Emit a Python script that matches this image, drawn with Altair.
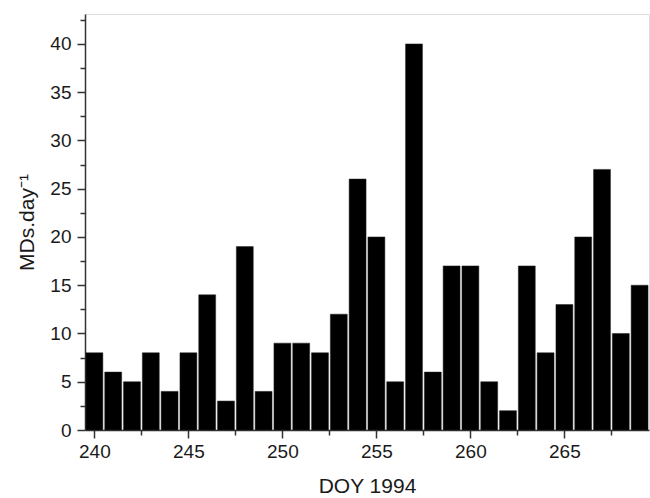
import altair as alt
import pandas as pd

days = list(range(240, 270))
counts = [8, 6, 5, 8, 4, 8, 14, 3, 19, 4, 9, 9, 8, 12, 26, 20, 5, 40, 6, 17,
          17, 5, 2, 17, 8, 13, 20, 27, 10, 15]
x_ticks = [240 + 2.5 * i for i in range(12)]
y_ticks = [2.5 * i for i in range(18)]

df = pd.DataFrame({"day": days, "count": counts})

font = "Liberation Sans"

chart = alt.Chart(df).transform_calculate(
    x0="datum.day - 0.45", x1="datum.day + 0.45"
).mark_bar(color="#000000", stroke="#222222", strokeWidth=0.5).encode(
    x=alt.X("x0:Q", scale=alt.Scale(domain=[239.5, 269.5], nice=False, zero=False),
            axis=alt.Axis(values=x_ticks, title="DOY 1994", grid=False,
                          labelExpr="datum.value % 5 === 0 ? datum.label : ''",
                          tickSize={"condition": {"test": "datum.value % 5 === 0", "value": 8}, "value": 5},
                          labelFontSize=19, titleFontSize=21, labelFont=font, titleFont=font,
                          titleFontWeight="normal", labelColor="#1a1a1a", titleColor="#1a1a1a",
                          domainColor="#333333", tickColor="#333333", domainWidth=1.5, tickWidth=1.5,
                          labelPadding=4, titlePadding=14, labelFlush=False)),
    x2="x1:Q",
    y=alt.Y("count:Q", scale=alt.Scale(domain=[0, 43.1], nice=False),
            axis=alt.Axis(values=y_ticks, title="MDs.day⁻¹", grid=False,
                          labelExpr="datum.value % 5 === 0 ? datum.label : ''",
                          tickSize={"condition": {"test": "datum.value % 5 === 0", "value": 8}, "value": 5},
                          labelFontSize=19, titleFontSize=21, labelFont=font, titleFont=font,
                          titleFontWeight="normal", labelColor="#1a1a1a", titleColor="#1a1a1a",
                          domainColor="#333333", tickColor="#333333", domainWidth=1.5, tickWidth=1.5,
                          labelPadding=6, titlePadding=12)),
    y2=alt.datum(0),
).properties(
    width=564, height=416,
    autosize=alt.AutoSizeParams(type="none"),
    padding={"left": 85, "top": 14, "right": 1, "bottom": 68},
).configure_view(stroke="#999999", strokeWidth=1.5).configure(background="white")

chart.save("out.html", embed_options={"renderer": "svg", "actions": False})
